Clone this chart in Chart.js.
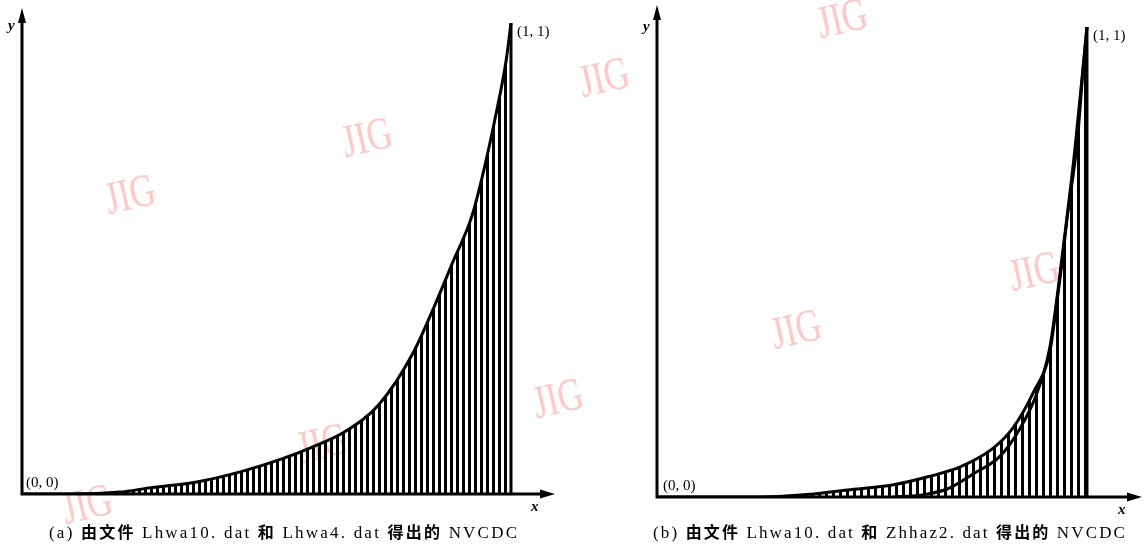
<!DOCTYPE html>
<html>
<head>
<meta charset="utf-8">
<script src="https://cdn.jsdelivr.net/npm/chart.js@4.4.0/dist/chart.umd.min.js"></script>
<style>
  body { margin: 0; background: #fff; }
  #wrap { position: relative; width: 1146px; height: 544px; overflow: hidden; }
  .mark { position: absolute; color: #ffc8c8; font-family: "Liberation Serif", serif; font-size: 46px; line-height: 1;
          white-space: nowrap; transform: translate(-50%, -50%) rotate(-13deg) scaleX(0.76); }
  canvas { position: absolute; top: 0; }
  .cap { position: absolute; top: 521px; font-family: "Liberation Serif", "Noto Sans CJK SC", serif; font-size: 17px;
         line-height: 20px; white-space: nowrap; color: #000; }
  .cap b { font-family: "Noto Sans CJK SC", sans-serif; font-weight: bold; font-size: 16px; }
</style>
</head>
<body>
<div id="wrap">
  <div class="mark" style="left:130px;top:194px">JIG</div>
  <div class="mark" style="left:367px;top:137px">JIG</div>
  <div class="mark" style="left:558px;top:398px">JIG</div>
  <div class="mark" style="left:322px;top:443px">JIG</div>
  <div class="mark" style="left:87px;top:504px">JIG</div>
  <div class="mark" style="left:842px;top:18px">JIG</div>
  <div class="mark" style="left:604px;top:77px">JIG</div>
  <div class="mark" style="left:796px;top:329px">JIG</div>
  <div class="mark" style="left:1034px;top:271px">JIG</div>

  <canvas id="chartA" width="573" height="544" style="left:0"></canvas>
  <canvas id="chartB" width="573" height="544" style="left:573px"></canvas>

  <div class="cap" id="capA" style="left:49px">(a) <b>由文件</b> Lhwa10. dat <b>和</b> Lhwa4. dat <b>得出的</b> NVCDC</div>
  <div class="cap" id="capB" style="left:653px">(b) <b>由文件</b> Lhwa10. dat <b>和</b> Zhhaz2. dat <b>得出的</b> NVCDC</div>
</div>
<script>
// (a) Lhwa10 vs Lhwa4
const curveAx = [0, 0.10, 0.20, 0.26, 0.36, 0.45, 0.53, 0.59, 0.66, 0.73, 0.80, 0.85, 0.88, 0.92, 0.945, 0.97, 0.99, 1.0];
const curveAy = [0, 0, 0.004, 0.013, 0.026, 0.048, 0.074, 0.098, 0.132, 0.19, 0.30, 0.415, 0.49, 0.59, 0.69, 0.81, 0.92, 1.0];

// (b) Lhwa10 vs Zhhaz2, upper (hatched) and lower curve
const curveBx = [0, 0.24, 0.334, 0.443, 0.55, 0.63, 0.705, 0.782, 0.828, 0.875, 0.914, 0.93, 0.942, 0.954, 0.977, 0.991, 1.0];
const curveBy = [0, 0, 0.004, 0.015, 0.026, 0.043, 0.064, 0.104, 0.147, 0.222, 0.311, 0.414, 0.499, 0.595, 0.753, 0.910, 1.0];
const lowerBx = [0.55, 0.613, 0.675, 0.735, 0.798, 0.845, 0.884, 0.914, 0.942, 0.972, 1.0];
const lowerBy = [0, 0.004, 0.017, 0.049, 0.087, 0.147, 0.222, 0.32, 0.51, 0.74, 1.0];

// right edge of both curves, from (1,0) up to (1,1)
const edgeX = [1, 1];
const edgeY = [0, 1];

function pts(xs, ys) {
  return xs.map((x, i) => ({x: x, y: ys[i]}));
}

// vertical hatching
function hatch(period, lineW) {
  const c = document.createElement('canvas');
  c.width = period; c.height = 4;
  const g = c.getContext('2d');
  g.fillStyle = '#000';
  g.fillRect(0, 0, lineW, 4);
  return g.createPattern(c, 'repeat');
}

const axesPlugin = {
  id: 'axes',
  afterDatasetsDraw(chart, args, o) {
    const {ctx, chartArea: a, scales: {x, y}} = chart;
    const x0 = x.getPixelForValue(0), y0 = y.getPixelForValue(0);
    const x1 = x.getPixelForValue(1), y1 = y.getPixelForValue(1);
    ctx.save();
    ctx.strokeStyle = '#000';
    ctx.fillStyle = '#000';
    ctx.lineWidth = 3;
    ctx.beginPath();
    ctx.moveTo(x0 - 1.5, y0); ctx.lineTo(a.right - 8, y0);
    ctx.moveTo(x0, y0 + 1.5); ctx.lineTo(x0, a.top + 8);
    ctx.stroke();
    ctx.beginPath();
    ctx.moveTo(a.right, y0); ctx.lineTo(a.right - 15, y0 - 4.5); ctx.lineTo(a.right - 15, y0 + 4.5);
    ctx.closePath(); ctx.fill();
    ctx.beginPath();
    ctx.moveTo(x0, a.top); ctx.lineTo(x0 - 4, a.top + 15); ctx.lineTo(x0 + 4, a.top + 15);
    ctx.closePath(); ctx.fill();

    ctx.font = '15px "Liberation Serif"';
    ctx.fillText('(0, 0)', x0 + o.zx, y0 - 7);
    ctx.fillText('(1, 1)', x1 + 6, y1 + 13);
    ctx.font = 'italic bold 15px "Liberation Serif"';
    ctx.fillText('y', x0 - 14, a.top + o.yy);
    ctx.fillText('x', a.right - 24, y0 + 17);
    ctx.restore();
  }
};

function makeChart(id, datasets, pad, xMax, yMax, lab) {
  return new Chart(document.getElementById(id), {
    type: 'line',
    data: { datasets: datasets },
    options: {
      responsive: false,
      animation: false,
      events: [],
      layout: { padding: pad },
      plugins: { legend: { display: false }, tooltip: { enabled: false }, axes: lab },
      scales: {
        x: { type: 'linear', display: false, min: 0, max: xMax },
        y: { type: 'linear', display: false, min: 0, max: yMax }
      }
    },
    plugins: [axesPlugin]
  });
}

const lineStyle = { borderColor: '#000', borderWidth: 3, pointRadius: 0, cubicInterpolationMode: 'monotone' };

makeChart('chartA', [
  Object.assign({ data: pts(curveAx, curveAy), fill: 'origin', backgroundColor: hatch(6, 3) }, lineStyle),
  Object.assign({ data: pts(edgeX, edgeY), fill: false }, lineStyle)
], { left: 22, top: 8, right: 18, bottom: 50 }, 1.09, 1.032, { zx: 4, yy: 22 });

makeChart('chartB', [
  Object.assign({ data: pts(curveBx, curveBy), fill: 'origin', backgroundColor: hatch(7, 3) }, lineStyle),
  Object.assign({ data: pts(lowerBx, lowerBy), fill: false, borderWidth: 2.5 }, lineStyle),
  Object.assign({ data: pts(edgeX, edgeY), fill: false }, lineStyle)
], { left: 84, top: 5, right: 4, bottom: 47 }, 1.128, 1.047, { zx: 6, yy: 26 });

// stretch captions to the width they have in the figure
function fitCaption(id, w) {
  const el = document.getElementById(id);
  const n = el.textContent.length;
  const extra = (w - el.getBoundingClientRect().width) / (n - 1);
  el.style.letterSpacing = extra + 'px';
}
fitCaption('capA', 468);
fitCaption('capB', 472);
</script>
</body>
</html>
